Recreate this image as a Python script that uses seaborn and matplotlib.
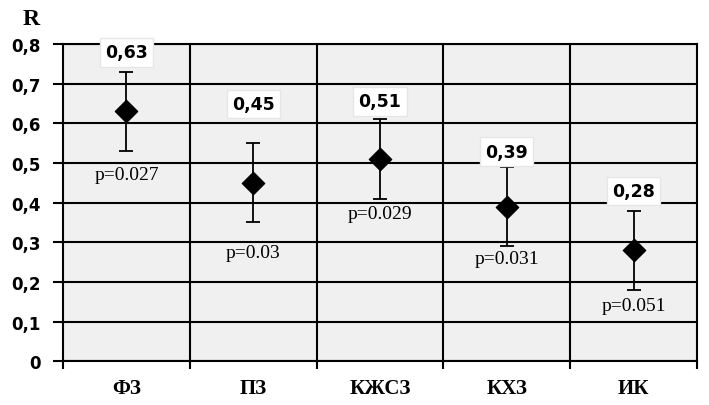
import numpy as np
import pandas as pd
import matplotlib
matplotlib.use('Agg')
import matplotlib.pyplot as plt
import seaborn as sns

# data
groups = ['ФЗ', 'ПЗ', 'КЖСЗ', 'КХЗ', 'ИК']
r_values = [0.63, 0.45, 0.51, 0.39, 0.28]
r_errors = [0.10, 0.10, 0.10, 0.10, 0.10]
p_labels = ['p=0.027', 'p=0.03', 'p=0.029', 'p=0.031', 'p=0.051']
y_ticks = [0, 0.1, 0.2, 0.3, 0.4, 0.5, 0.6, 0.7, 0.8]

sns.set_style('white')
plt.rcParams['font.family'] = ['Liberation Serif', 'DejaVu Serif']
plt.rcParams['text.color'] = 'black'
plt.rcParams['xtick.color'] = 'black'
plt.rcParams['ytick.color'] = 'black'

df = pd.DataFrame({'group': groups, 'r': r_values, 'err': r_errors})

fig = plt.figure(figsize=(7.09, 4.06), dpi=100)
ax = fig.add_axes([0.089, 0.108, 0.894, 0.781])
ax.set_facecolor('#f0f0f0')

xpos = np.arange(len(groups))
ax.errorbar(xpos, df['r'], yerr=df['err'], fmt='none', ecolor='black',
            elinewidth=1.3, capsize=5, capthick=1.3, zorder=3)
sns.scatterplot(data=df, x='group', y='r', marker='D', s=130, color='black',
                edgecolor='black', ax=ax, zorder=4, legend=False)

ax.set_xlim(-0.5, len(groups) - 0.5)
ax.set_ylim(0, 0.8)
ax.set_yticks(y_ticks)
ax.set_yticklabels([('%.1f' % v).replace('.', ',') if v else '0' for v in y_ticks],
                   fontfamily='DejaVu Sans', fontweight='bold', fontsize=12, color='black')
ax.set_xticks(xpos)
ax.set_xticklabels(groups, fontweight='bold', fontsize=15, color='black')
ax.set_xticks(np.arange(-0.5, len(groups)), minor=True)
ax.tick_params(axis='x', which='major', bottom=True, length=0, pad=12)
ax.tick_params(axis='x', which='minor', bottom=True, length=6, width=1.5,
               color='black', direction='out')
ax.tick_params(axis='y', which='major', left=True, length=7, width=1.5,
               color='black', direction='out', pad=9)

ax.grid(False)
for v in y_ticks:
    ax.axhline(v, color='black', lw=1.5, zorder=1)
for b in np.arange(0.5, len(groups) - 0.5):
    ax.axvline(b, color='black', lw=1.5, zorder=1)
for s in ax.spines.values():
    s.set_color('black')
    s.set_linewidth(1.5)
ax.set_xlabel('')
ax.set_ylabel('')

# value labels above, p-values below
top_off = [14, 28, 13, 11, 14]
bot_off = [17, 22, 11, 9, 11]
for i, (v, e) in enumerate(zip(r_values, r_errors)):
    ax.annotate(('%.2f' % v).replace('.', ','), (i, v + e), xytext=(0, top_off[i]),
                textcoords='offset points', ha='center', va='center', color='black',
                fontfamily='DejaVu Sans', fontweight='bold', fontsize=12.5, zorder=5,
                bbox=dict(boxstyle='square,pad=0.3', fc='white', ec='#e6e6e6', lw=1))
    ax.annotate(p_labels[i], (i, v - e), xytext=(0, -bot_off[i]), color='black',
                textcoords='offset points', ha='center', va='center', fontsize=14, zorder=5)

fig.text(0.0437, 0.951, 'R', fontweight='bold', fontsize=17, ha='center', va='center')

fig.savefig('out.png', dpi=100, facecolor='white')
